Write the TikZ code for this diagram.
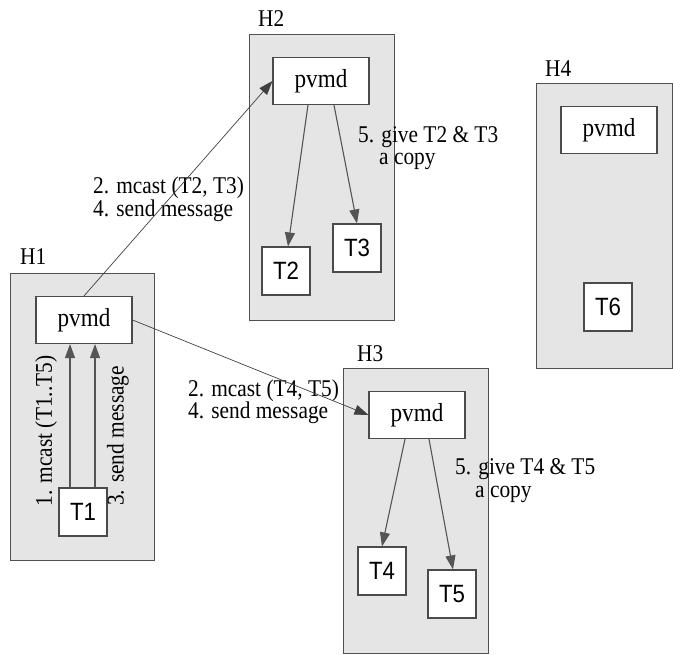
\documentclass[tikz,border=0pt]{standalone}
\usepackage{fontspec}
\usepackage{graphicx}
\setmainfont{Liberation Serif}
\setsansfont{Liberation Sans}
\usetikzlibrary{arrows.meta}
\definecolor{hostfill}{RGB}{229,229,229}
\definecolor{hostline}{RGB}{80,80,80}
\definecolor{boxline}{RGB}{75,75,75}
\definecolor{arrowcol}{RGB}{85,85,85}
\newcommand{\nrw}[1]{\scalebox{0.89}[1]{#1}}
\begin{document}
\begin{tikzpicture}[x=1pt,y=-1pt,
 host/.style={draw=hostline, line width=0.7pt, fill=hostfill, inner sep=0pt, anchor=north west},
 pvmdbox/.style={draw=boxline, line width=1.1pt, fill=white, minimum width=96pt, minimum height=47pt, inner sep=0pt, font=\fontsize{26}{26}\selectfont},
 taskbox/.style={draw=boxline, line width=1.1pt, fill=white, minimum width=48pt, minimum height=48pt, inner sep=0pt, font=\sffamily\fontsize{25}{25}\selectfont},
 hostlabel/.style={inner sep=0pt, anchor=base west, font=\fontsize{24}{24}\selectfont},
 lbl/.style={inner sep=0pt, anchor=base west, font=\fontsize{24}{23}\selectfont},
 rlbl/.style={inner sep=0pt, rotate=90, font=\fontsize{24}{23}\selectfont},
 innerarrow/.style={draw=arrowcol, line width=1.1pt, -{Triangle[length=14pt,width=10pt]}},
 netarrow/.style={draw=black!75, line width=0.7pt, -{Triangle[length=14pt,width=10pt]}}
]
\useasboundingbox (0,0) rectangle (673,655);

% hosts
\node[host, minimum width=144pt, minimum height=287pt] (h1) at (10,273) {};
\node[host, minimum width=145pt, minimum height=286pt] (h2) at (249,34) {};
\node[host, minimum width=145pt, minimum height=285pt] (h3) at (343,368) {};
\node[host, minimum width=136pt, minimum height=285pt] (h4) at (536,83) {};

% host labels
\node[hostlabel] (lh1) at (20,265) {\nrw{H1}};
\node[hostlabel] (lh2) at (258,27) {\nrw{H2}};
\node[hostlabel] (lh3) at (357,362) {\nrw{H3}};
\node[hostlabel] (lh4) at (545,77) {\nrw{H4}};

% pvmd and task boxes
\node[pvmdbox] (p1) at (84,320) {\nrw{pvmd}};
\node[taskbox] (t1) at (83,512) {\nrw{T1}};
\node[pvmdbox] (p2) at (321,81) {\nrw{pvmd}};
\node[taskbox] (t2) at (286,271) {\nrw{T2}};
\node[taskbox] (t3) at (357,248) {\nrw{T3}};
\node[pvmdbox] (p3) at (417,415) {\nrw{pvmd}};
\node[taskbox] (t4) at (382,571) {\nrw{T4}};
\node[taskbox] (t5) at (452,594) {\nrw{T5}};
\node[pvmdbox] (p4) at (609,130) {\nrw{pvmd}};
\node[taskbox] (t6) at (608,307) {\nrw{T6}};

% labels
\node[rlbl] (r1) at (46,431) {\nrw{1. mcast (T1..T5)}};
\node[rlbl] (r3) at (118,436) {\nrw{3. send message}};
\node[lbl] (a1) at (93,194) {\nrw{2. mcast (T2, T3)}};
\node[lbl] (a2) at (93,217) {\nrw{4. send message}};
\node[lbl] (b1) at (188,397) {\nrw{2. mcast (T4, T5)}};
\node[lbl] (b2) at (188,419) {\nrw{4. send message}};
\node[lbl] (c1) at (358,143) {\nrw{5. give T2 \& T3}};
\node[lbl] (c2) at (379,165) {\nrw{a copy}};
\node[lbl] (d1) at (455,475) {\nrw{5. give T4 \& T5}};
\node[lbl] (d2) at (475,497) {\nrw{a copy}};

% arrows inside hosts
\draw[innerarrow] ([xshift=-13pt]t1.north) -- ([xshift=-13pt]t1.north |- p1.south);
\draw[innerarrow] ([xshift=12pt]t1.north) -- ([xshift=12pt]t1.north |- p1.south);
\draw[innerarrow] ([xshift=-13pt]p2.south) -- ([xshift=2pt]t2.north);
\draw[innerarrow] ([xshift=13pt]p2.south) -- (t3.north);
\draw[innerarrow] ([xshift=-12pt]p3.south) -- (t4.north);
\draw[innerarrow] ([xshift=12pt]p3.south) -- ([xshift=1pt]t5.north);

% network arrows
\draw[netarrow] (p1.north) -- (p2.west);
\draw[netarrow] (p1.east) -- (p3.west);
\end{tikzpicture}
\end{document}
